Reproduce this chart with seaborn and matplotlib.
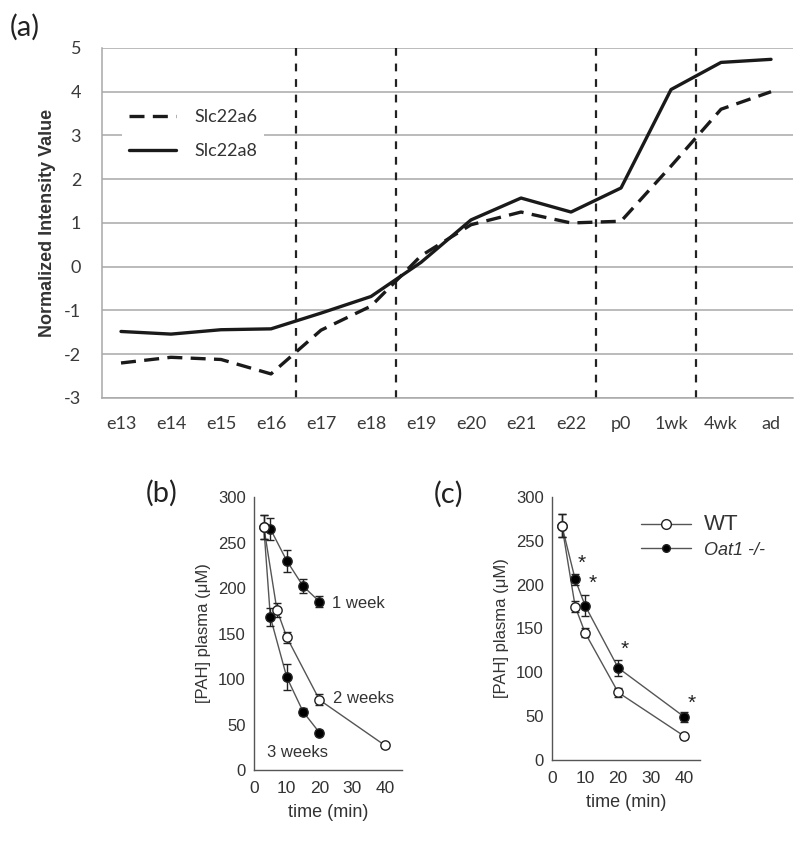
import seaborn as sns
import pandas as pd
import numpy as np
import matplotlib.pyplot as plt
from matplotlib.lines import Line2D

# (a) developmental expression
stages = ['e13', 'e14', 'e15', 'e16', 'e17', 'e18', 'e19', 'e20', 'e21', 'e22', 'p0', '1wk', '4wk', 'ad']
slc22a6 = [-2.2, -2.07, -2.12, -2.45, -1.45, -0.9, 0.25, 0.96, 1.25, 1.0, 1.04, 2.3, 3.6, 4.0]
slc22a8 = [-1.48, -1.54, -1.44, -1.42, -1.06, -0.68, 0.1, 1.07, 1.57, 1.25, 1.8, 4.05, 4.67, 4.74]
borders = [3.5, 5.5, 9.5, 11.5]

# (b) PAH plasma clearance by age
t_1wk = [5, 10, 15, 20]
pah_1wk = [265, 230, 202, 185]
err_1wk = [12, 12, 8, 6]
t_2wk = [3, 7, 10, 20, 40]
pah_2wk = [267, 176, 146, 77, 27]
err_2wk = [13, 8, 6, 6, 3]
t_3wk = [3, 5, 10, 15, 20]
pah_3wk = [267, 168, 102, 64, 41]
err_3wk = [13, 10, 14, 4, 3]

# (c) WT vs Oat1 -/-
t_c = [3, 7, 10, 20, 40]
pah_wt = [267, 175, 145, 77, 27]
err_wt = [13, 6, 5, 5, 3]
pah_ko = [267, 206, 176, 105, 49]
err_ko = [13, 6, 12, 9, 6]
star_t = [9, 12.4, 22.1, 42.2]
star_y = [224, 201, 126, 65]

sns.set_style('white')
plt.rcParams['font.family'] = ['Liberation Sans', 'DejaVu Sans']
plt.rcParams['axes.unicode_minus'] = False

fig = plt.figure(figsize=(8, 8.43), dpi=100)

# ---------------- (a)
ax_a = fig.add_axes([0.1275, 0.5279, 0.8638, 0.4152])
df_a = pd.DataFrame({'pos': np.arange(len(stages)), 'a6': slc22a6, 'a8': slc22a8})
for b in borders:
    ax_a.axvline(b, color='#222222', lw=1.6, ls=(0, (3.5, 3.5)), zorder=2)
sns.lineplot(data=df_a, x='pos', y='a6', ax=ax_a, color='#1a1a1a', lw=2.4,
             linestyle=(0, (4.5, 2.5)), label='Slc22a6', zorder=3)
sns.lineplot(data=df_a, x='pos', y='a8', ax=ax_a, color='#1a1a1a', lw=2.4,
             label='Slc22a8', zorder=3)
ax_a.set_xlim(-0.38, 13.44)
ax_a.set_ylim(-3, 5)
ax_a.set_yticks(range(-3, 6))
ax_a.set_xticks(range(len(stages)))
ax_a.set_xticklabels(stages)
ax_a.yaxis.grid(True, color='#a8a8a8', lw=1.1)
ax_a.set_axisbelow(True)
for s in ['top', 'right']:
    ax_a.spines[s].set_visible(False)
for s in ['left', 'bottom']:
    ax_a.spines[s].set_color('#a8a8a8')
    ax_a.spines[s].set_linewidth(1.1)
ax_a.tick_params(length=0, labelsize=13, colors='#3a3a3a')
ax_a.tick_params(axis='y', pad=15)
ax_a.tick_params(axis='x', pad=13)
for lab in ax_a.get_xticklabels() + ax_a.get_yticklabels():
    lab.set_family('Lato')
ax_a.set_xlabel('')
ax_a.set_ylabel('Normalized Intensity Value', fontsize=13, fontweight='bold', color='#333333', labelpad=6)
leg = ax_a.legend(loc='upper left', bbox_to_anchor=(0.029, 0.846), frameon=True, facecolor='white',
                  edgecolor='none', framealpha=1, fancybox=False, handlelength=2.6, handletextpad=1.0,
                  labelspacing=1.0, borderaxespad=0, prop={'family': 'Lato', 'size': 13})
for txt in leg.get_texts():
    txt.set_color('#333333')
fig.text(25 / 800, 1 - 27 / 843, '(a)', ha='center', va='center', fontsize=21, family='Lato', color='#222222')


def style_small(ax, xmax):
    ax.set_xlim(0, xmax)
    ax.set_ylim(0, 300)
    ax.set_xticks([0, 10, 20, 30, 40])
    ax.set_yticks(range(0, 301, 50))
    for s in ['top', 'right']:
        ax.spines[s].set_visible(False)
    for s in ['left', 'bottom']:
        ax.spines[s].set_color('#555555')
        ax.spines[s].set_linewidth(1)
    ax.tick_params(axis='y', direction='out', length=3, width=1, color='#555555', labelsize=12, labelcolor='#333333', pad=3)
    ax.tick_params(axis='x', direction='in', length=3, width=1, color='#555555', labelsize=12.5, labelcolor='#333333', pad=8)
    ax.set_xlabel('time (min)', fontsize=13, color='#333333', labelpad=6)
    ax.set_ylabel('[PAH] plasma (\u03bcM)', fontsize=12, color='#333333', labelpad=5)


def series(ax, t, v, err, face):
    sns.lineplot(x=t, y=v, ax=ax, color='#555555', lw=1, zorder=1)
    ax.errorbar(t, v, yerr=err, fmt='none', ecolor='#222222', elinewidth=1, capsize=3, zorder=2)
    sns.scatterplot(x=t, y=v, ax=ax, color=face, edgecolor='#222222', s=45, linewidth=1, zorder=3)


# ---------------- (b)
ax_b = fig.add_axes([0.3175, 0.0866, 0.1846, 0.3238])
series(ax_b, t_1wk, pah_1wk, err_1wk, 'black')
series(ax_b, t_3wk, pah_3wk, err_3wk, 'black')
series(ax_b, t_2wk, pah_2wk, err_2wk, 'white')
style_small(ax_b, 45.1)
ax_b.text(23.7, 183, '1 week', ha='left', va='center', fontsize=12, color='#333333')
ax_b.text(24, 79, '2 weeks', ha='left', va='center', fontsize=12, color='#333333')
ax_b.text(4, 19, '3 weeks', ha='left', va='center', fontsize=12, color='#333333')
fig.text(162 / 800, 1 - 493 / 843, '(b)', ha='center', va='center', fontsize=21, family='Lato', color='#222222')

# ---------------- (c)
ax_c = fig.add_axes([0.69, 0.0985, 0.185, 0.312])
series(ax_c, t_c, pah_ko, err_ko, 'black')
series(ax_c, t_c, pah_wt, err_wt, 'white')
style_small(ax_c, 44.7)
for x, y in zip(star_t, star_y):
    ax_c.text(x, y, '*', ha='center', va='center', fontsize=15, color='#222222')
handles = [Line2D([], [], color='#555555', lw=1, marker='o', mfc='white', mec='#222222', ms=7),
           Line2D([], [], color='#555555', lw=1, marker='o', mfc='black', mec='#222222', ms=5.5)]
leg_c = ax_c.legend(handles, ['WT', 'Oat1 -/-'], loc='center left', bbox_to_anchor=(0.6, 0.85),
                    frameon=False, handlelength=2.8, handletextpad=0.7, labelspacing=0.35,
                    borderaxespad=0, borderpad=0, fontsize=13)
leg_c.get_texts()[0].set_fontsize(16)
leg_c.get_texts()[1].set_fontstyle('italic')
for txt in leg_c.get_texts():
    txt.set_color('#333333')
fig.text(449 / 800, 1 - 494 / 843, '(c)', ha='center', va='center', fontsize=21, family='Lato', color='#222222')

fig.savefig('out.png', dpi=100)
